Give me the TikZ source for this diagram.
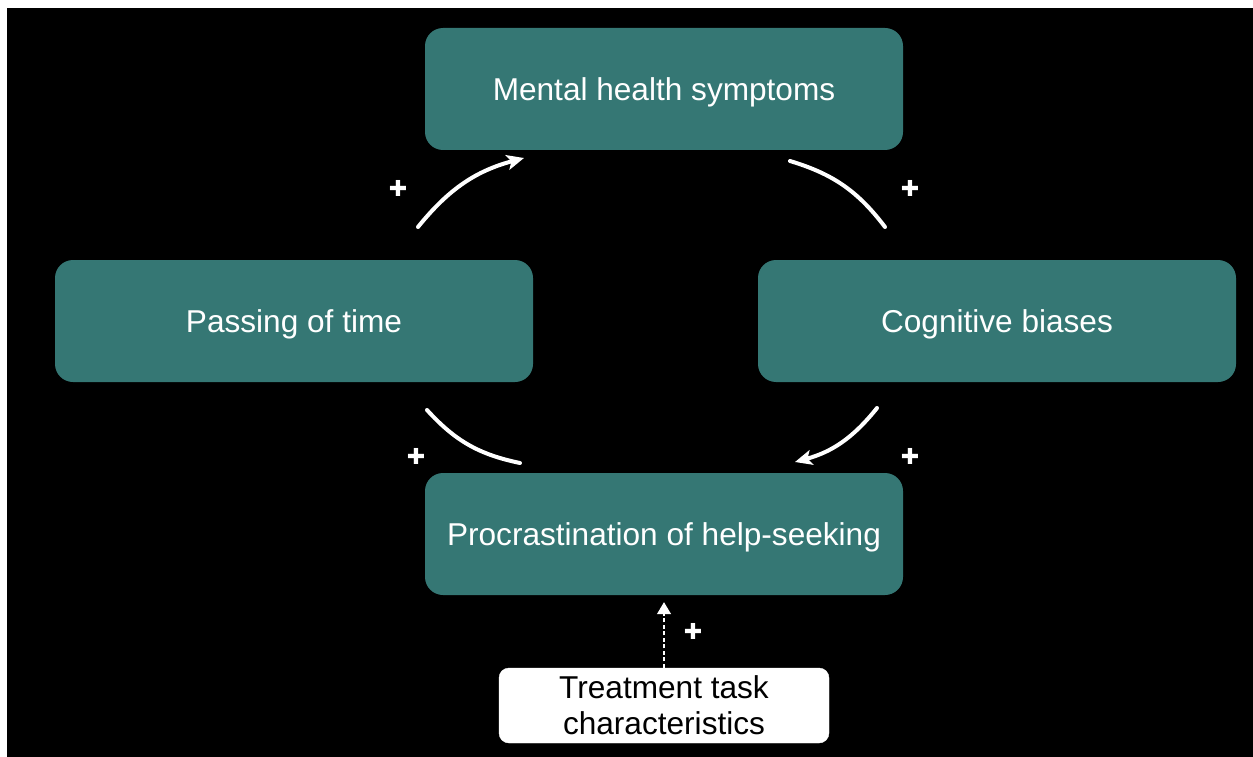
\documentclass[tikz,border=0pt]{standalone}
\usepackage{fontspec}
\setmainfont{Liberation Sans}
\newfontfamily\symfont{DejaVu Sans}
\usetikzlibrary{arrows.meta,calc}
\definecolor{teal1}{RGB}{53,119,116}
\begin{document}
\begin{tikzpicture}[x=1pt,y=-1pt,
  box/.style={draw=none,fill=teal1,rounded corners=18pt,minimum width=478pt,minimum height=122pt,
    text=white,font=\fontsize{31.6}{36}\selectfont,inner sep=0pt,text height=24pt,text depth=1pt},
  tbox/.style={fill=white,draw=white,rounded corners=10pt,minimum width=330pt,minimum height=75pt,
    text=black,font=\fontsize{31.6}{36}\selectfont,align=center,inner sep=0pt},
  link/.style={draw=white,line width=4pt,line cap=round},
  arr/.style={link,-{Stealth[length=17pt,width=15pt,inset=4pt]}},
  plus/.style={text=white,font=\symfont\fontsize{22}{22}\selectfont,inner sep=0pt}]
\useasboundingbox (0,0) rectangle (1253,757);
\fill[white] (0,0) rectangle (1253,757);
\fill[black] (7,8) rectangle (1253,757);

\node[box] (ment) at (664,89) {Mental health symptoms};
\node[box] (pass) at (294,321) {Passing of time};
\node[box] (cogn) at (997,321) {Cognitive biases};
\node[box] (proc) at (664,534) {Procrastination of help-seeking};
\node[tbox] (treat) at (664,705.5) {Treatment task\\characteristics};

\coordinate (a1) at (418,227);
\coordinate (a2) at (524,158);
\coordinate (b1) at (790,161);
\coordinate (b2) at (885,227);
\coordinate (c1) at (877,408);
\coordinate (c2) at (795,462);
\coordinate (d1) at (520,463);
\coordinate (d2) at (427,410);

\draw[arr] (a1) to[bend left=18] (a2);
\draw[link] (b1) to[bend left=18] (b2);
\draw[arr] (c1) to[bend left=18] (c2);
\draw[link] (d1) to[bend left=18] (d2);
\draw[white,line width=1.4pt,dash pattern=on 4pt off 2.5pt,-{Triangle[length=12pt,width=14pt]}]
  (treat.north) -- ($(proc.south)+(0,7)$);

\node[plus] (p1) at (398,188) {✚};
\node[plus] (p2) at (910,188) {✚};
\node[plus] (p3) at (416,456) {✚};
\node[plus] (p4) at (910,456) {✚};
\node[plus] (p5) at (693,631) {✚};
\end{tikzpicture}
\end{document}
